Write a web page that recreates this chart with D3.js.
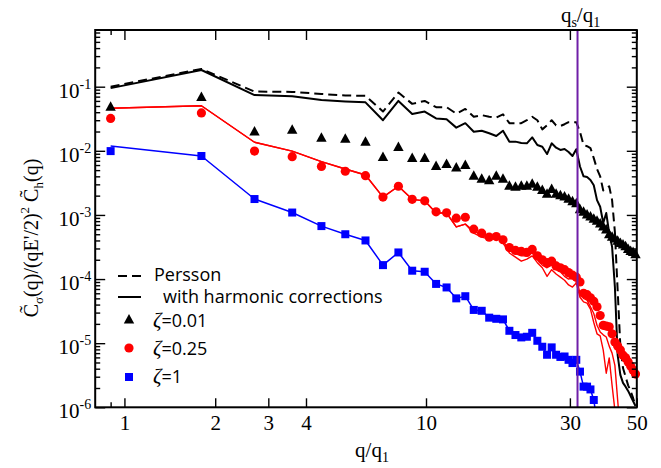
<!DOCTYPE html>
<html>
<head>
<meta charset="utf-8">
<script src="https://cdn.jsdelivr.net/npm/d3@7"></script>
<style>
  body { margin: 0; background: #fff; }
  svg { display: block; }
</style>
</head>
<body>
<div id="container"></div>
<script>
// q/q1 positions of the bins
const qValues = [0.9, 1.8, 2.7, 3.6, 4.5, 5.4, 6.3, 7.2, 8.1, 9.0, 9.9, 10.8, 11.7, 12.6, 13.5,
  14.4, 15.3, 16.2, 17.1, 18.0, 18.9, 19.8, 20.7, 21.6, 22.5, 23.4, 24.3, 25.2, 26.1, 27.0,
  27.9, 28.8, 29.7, 30.6, 31.5, 32.4, 33.3, 34.2, 35.1, 36.0, 36.9, 37.8, 38.7, 39.6, 40.5,
  41.4, 42.3, 43.2, 44.1, 45.0, 45.9, 46.8, 47.7, 48.6, 49.5];

// simulation markers
const zeta001 = [0.048, 0.068, 0.0197, 0.021, 0.0157, 0.0151, 0.0136, 0.0079, 0.0113, 0.0076,
  0.0076, 0.0057, 0.0061, 0.0054, 0.0059, 0.0040, 0.0036, 0.0034, 0.0040, 0.0036,
  0.0028, 0.0027, 0.0028, 0.0028, 0.0030, 0.0027, 0.0024, 0.0021, 0.0025, 0.0021,
  0.0020, 0.0019, 0.00175, 0.0016, 0.0015, 0.0012, 0.0011, 0.0010, 9.3e-4, 8.6e-4,
  8.0e-4, 7.2e-4, 6.5e-4, 5.8e-4, 4.9e-4, 4.5e-4, 4.2e-4, 3.9e-4, 3.6e-4, 3.4e-4,
  3.2e-4, 2.9e-4, 2.7e-4, 2.6e-4, 2.4e-4];
const zeta025 = [0.032, 0.039, 0.0099, 0.0081, 0.0057, 0.0048, 0.0041, 0.0019, 0.0028, 0.00175,
  0.00166, 0.00112, 0.00108, 8.9e-4, 9.2e-4, 6.0e-4, 5.2e-4, 4.5e-4, 4.6e-4, 4.1e-4,
  3.1e-4, 2.8e-4, 2.7e-4, 2.6e-4, 2.9e-4, 2.3e-4, 2.0e-4, 1.8e-4, 1.9e-4, 1.6e-4,
  1.5e-4, 1.4e-4, 1.26e-4, 1.15e-4, 1.07e-4, 9.0e-5, 6.0e-5, 5.7e-5, 5.1e-5, 4.5e-5,
  3.7e-5, 2.7e-5, 1.9e-5, 1.85e-5, 1.8e-5, 1.4e-5, 1.04e-5, 9.0e-6, 7.8e-6, 6.5e-6,
  5.9e-6, 5.1e-6, 4.4e-6, 3.8e-6, 3.3e-6];
const zeta1 = [0.0099, 0.0083, 0.00177, 0.00109, 6.7e-4, 5.0e-4, 4.0e-4, 1.65e-4, 2.6e-4, 1.35e-4,
  1.3e-4, 8.4e-5, 7.4e-5, 5.0e-5, 5.4e-5, 3.3e-5, 3.2e-5, 2.5e-5, 2.4e-5, 2.35e-5,
  1.56e-5, 1.34e-5, 1.23e-5, 1.26e-5, 1.45e-5, 1.09e-5, 8.8e-6, 6.6e-6, 8.6e-6, 6.6e-6,
  6.1e-6, 6.2e-6, 5.5e-6, 4.9e-6, 5.5e-6, 3.6e-6, 2.1e-6, 2.1e-6, 1.9e-6, 1.3e-6,
  6e-7];

// theory lines
const perssonZeta001 = [0.1, 0.189, 0.084, 0.083, 0.077, 0.073, 0.072, 0.041, 0.081, 0.054,
  0.060, 0.048, 0.048, 0.038, 0.045, 0.034, 0.036, 0.034, 0.033, 0.037,
  0.027, 0.027, 0.027, 0.030, 0.034, 0.030, 0.0216, 0.025, 0.030, 0.025,
  0.0244, 0.026, 0.028, 0.028, 0.028, 0.0197, 0.0123, 0.0118, 0.011, 0.0077,
  0.0052, 0.0040, 0.0024, 0.0026, 0.0028, 0.0017, 5.4e-4, 6.7e-5, 9.0e-6, 4.1e-6,
  3.0e-6, 2.2e-6, 1.8e-6, 1.4e-6, 1.05e-6];
const harmonicZeta001 = [0.095, 0.182, 0.074, 0.071, 0.062, 0.059, 0.057, 0.030, 0.060, 0.0375,
  0.041, 0.032, 0.031, 0.023, 0.027, 0.0198, 0.0206, 0.0188, 0.017, 0.0206,
  0.0139, 0.0139, 0.0132, 0.0131, 0.0162, 0.0123, 0.0116, 0.0089, 0.0131, 0.0112,
  0.0103, 0.0107, 0.0096, 0.0083, 0.0106, 0.0057, 0.0040, 0.0039, 0.0035, 0.0029,
  0.0017, 0.00134, 7.5e-4, 0.00107, 5.2e-4, 3.2e-4, 7.5e-5, 6.5e-6, 3.2e-6, 2.4e-6,
  2.1e-6, 1.8e-6, 1.5e-6, 1.25e-6, 1.05e-6];
const perssonZeta025 = [0.046, 0.0505, 0.0136, 0.0099, 0.0068, 0.0052, 0.0042, 0.0019, 0.0028, 0.00175,
  0.00166, 0.00107, 0.00107, 6.5e-4, 7.2e-4, 5.6e-4, 4.9e-4, 4.4e-4, 5.0e-4, 3.9e-4,
  2.8e-4, 2.5e-4, 2.3e-4, 2.3e-4, 2.55e-4, 2.0e-4, 1.65e-4, 1.5e-4, 1.65e-4, 1.4e-4,
  1.3e-4, 1.1e-4, 1.0e-4, 1.04e-4, 1.07e-4, 6.0e-5, 5.0e-5, 4.7e-5, 3.7e-5, 2.9e-5,
  1.9e-5, 1.5e-5, 1.35e-5, 1.25e-5, 9.0e-6, 7.0e-6, 4.5e-6, 1.3e-6, 4e-7];
const harmonicZeta025 = [0.046, 0.0505, 0.0136, 0.0099, 0.0068, 0.0052, 0.0042, 0.0019, 0.0028, 0.00175,
  0.00166, 0.00107, 0.00107, 6.5e-4, 7.2e-4, 5.2e-4, 4.5e-4, 4.2e-4, 4.7e-4, 3.65e-4,
  2.55e-4, 2.2e-4, 1.9e-4, 2.05e-4, 2.3e-4, 1.8e-4, 1.5e-4, 1.1e-4, 1.4e-4, 1.2e-4,
  1.07e-4, 9.6e-5, 8.1e-5, 7.5e-5, 8.7e-5, 5.2e-5, 4.4e-5, 4.2e-5, 3.4e-5, 2.1e-5,
  1.4e-5, 1.3e-5, 7.8e-6, 3.4e-6, 5.9e-6, 2.2e-6, 9e-7, 4e-7];
const harmonicZeta1 = [0.0119, 0.0083, 0.00177, 0.00109, 6.7e-4, 5.0e-4, 4.0e-4, 1.65e-4, 2.6e-4, 1.35e-4,
  1.3e-4, 8.4e-5, 7.4e-5, 5.0e-5, 5.4e-5, 3.3e-5, 3.2e-5, 2.5e-5, 2.4e-5, 2.35e-5,
  1.56e-5, 1.34e-5, 1.23e-5, 1.26e-5, 1.45e-5, 1.09e-5, 8.8e-6, 6.6e-6, 8.6e-6, 6.6e-6,
  6.1e-6, 6.2e-6, 5.5e-6, 4.9e-6, 5.5e-6, 3.6e-6, 2.1e-6, 2.1e-6, 1.9e-6, 1.3e-6,
  6e-7, 4e-7];

const qsOverQ1 = 31.8;
const xTickValues = [1, 2, 3, 4, 10, 30, 50];
const xMinorTicks = [0.9];

const svg = d3.select('#container').append('svg')
  .attr('width', 661)
  .attr('height', 468);

const x = d3.scaleLog().domain([0.8, 50]).range([95.2, 636.8]);
const y = d3.scaleLog().domain([1e-6, 0.766]).range([407.3, 30]);
const [plotLeft, plotRight] = x.range();
const [plotBottom, plotTop] = y.range();

const serif = 'Liberation Serif, Times New Roman, serif';
const sans = 'Open Sans, sans-serif';

svg.append('defs').append('clipPath').attr('id', 'clip')
  .append('rect').attr('x', 0).attr('y', 0).attr('width', 661).attr('height', plotBottom);

const plot = svg.append('g').attr('clip-path', 'url(#clip)');
const pairs = vals => vals.map((v, i) => [qValues[i], v]);
const line = d3.line().x(d => x(d[0])).y(d => y(d[1]));

// lines
const lines = [
  { vals: perssonZeta001, color: '#000', width: 2, dash: '9,5' },
  { vals: harmonicZeta001, color: '#000', width: 2, dash: null },
  { vals: perssonZeta025, color: '#ff0000', width: 1.4, dash: null },
  { vals: harmonicZeta025, color: '#ff0000', width: 1.4, dash: null },
  { vals: harmonicZeta1, color: '#0000ff', width: 1.5, dash: null }
];
plot.selectAll('path.curve')
  .data(lines)
  .join('path')
    .attr('class', 'curve')
    .attr('d', d => line(pairs(d.vals)))
    .attr('fill', 'none')
    .attr('stroke', d => d.color)
    .attr('stroke-width', d => d.width)
    .attr('stroke-dasharray', d => d.dash)
    .attr('stroke-linejoin', 'round');

// markers
const triPath = 'M0,-6L5.2,3.5L-5.2,3.5Z';
plot.append('g').selectAll('path')
  .data(pairs(zeta001))
  .join('path')
    .attr('d', triPath)
    .attr('transform', d => `translate(${x(d[0])},${y(d[1])})`)
    .attr('fill', '#000');

plot.append('g').selectAll('circle')
  .data(pairs(zeta025))
  .join('circle')
    .attr('cx', d => x(d[0]))
    .attr('cy', d => y(d[1]))
    .attr('r', 4.6)
    .attr('fill', '#ff0000');

plot.append('g').selectAll('rect')
  .data(pairs(zeta1))
  .join('rect')
    .attr('x', d => x(d[0]) - 4)
    .attr('y', d => y(d[1]) - 4)
    .attr('width', 8)
    .attr('height', 8)
    .attr('fill', '#0000ff');

// q_s / q_1 marker line
svg.append('line')
  .attr('x1', x(qsOverQ1)).attr('x2', x(qsOverQ1))
  .attr('y1', plotTop).attr('y2', plotBottom)
  .attr('stroke', '#6f1fa8')
  .attr('stroke-width', 2);

// axes (ticks inward)
const yTicks = y.ticks();
const isDecade = t => Math.abs(Math.log10(t) - Math.round(Math.log10(t))) < 1e-6;
const yMajor = yTicks.filter(isDecade);
const yMinor = yTicks.filter(t => !isDecade(t));

function tickAxis(axis, transform) {
  const g = svg.append('g').attr('transform', transform).call(axis);
  g.select('.domain').remove();
  g.selectAll('line').attr('stroke', '#000').attr('stroke-width', 1.4);
  return g;
}

tickAxis(d3.axisLeft(y).tickValues(yMajor).tickSize(-10).tickFormat(''), `translate(${plotLeft},0)`);
tickAxis(d3.axisLeft(y).tickValues(yMinor).tickSize(-5).tickFormat(''), `translate(${plotLeft},0)`);
tickAxis(d3.axisRight(y).tickValues(yMajor).tickSize(-10).tickFormat(''), `translate(${plotRight},0)`);
tickAxis(d3.axisRight(y).tickValues(yMinor).tickSize(-5).tickFormat(''), `translate(${plotRight},0)`);
tickAxis(d3.axisTop(x).tickValues(xTickValues).tickSize(-10).tickFormat(''), `translate(0,${plotTop})`);
tickAxis(d3.axisTop(x).tickValues(xMinorTicks).tickSize(-5).tickFormat(''), `translate(0,${plotTop})`);
tickAxis(d3.axisBottom(x).tickValues(xMinorTicks).tickSize(-5).tickFormat(''), `translate(0,${plotBottom})`);
const xAxis = tickAxis(d3.axisBottom(x).tickValues(xTickValues).tickSize(-9).tickPadding(8).tickFormat(d3.format('d')),
  `translate(0,${plotBottom})`);
xAxis.attr('font-family', serif).attr('font-size', 21);
xAxis.selectAll('text').attr('fill', '#000');

// y tick labels 10^n
const yLabels = svg.append('g').attr('font-family', serif).attr('fill', '#000');
yMajor.forEach(t => {
  const txt = yLabels.append('text')
    .attr('x', plotLeft - 4)
    .attr('y', y(t) + 11)
    .attr('text-anchor', 'end')
    .attr('font-size', 21);
  txt.append('tspan').text('10');
  txt.append('tspan').attr('dy', -9).attr('font-size', 14).text(String(Math.round(Math.log10(t))));
});

// frame
svg.append('rect')
  .attr('x', plotLeft).attr('y', plotTop)
  .attr('width', plotRight - plotLeft).attr('height', plotBottom - plotTop)
  .attr('fill', 'none')
  .attr('stroke', '#000')
  .attr('stroke-width', 2);

// axis titles
const xt = svg.append('text')
  .attr('x', 372).attr('y', 457)
  .attr('text-anchor', 'middle')
  .attr('font-family', serif).attr('font-size', 21);
xt.append('tspan').text('q/q');
xt.append('tspan').attr('dy', 5).attr('font-size', 14).text('1');

const qt = svg.append('text')
  .attr('x', x(qsOverQ1) + 3).attr('y', 22)
  .attr('text-anchor', 'middle')
  .attr('font-family', serif).attr('font-size', 21);
qt.append('tspan').text('q');
qt.append('tspan').attr('dy', 5).attr('font-size', 14).text('s');
qt.append('tspan').attr('dy', -5).text('/q');
qt.append('tspan').attr('dy', 5).attr('font-size', 14).text('1');

const yt = svg.append('text')
  .attr('transform', 'translate(38,238) rotate(-90)')
  .attr('text-anchor', 'middle')
  .attr('font-family', serif).attr('font-size', 20);
yt.append('tspan').text('C\u0303');
yt.append('tspan').attr('dy', 5).attr('font-size', 13).text('σ');
yt.append('tspan').attr('dy', -5).text("(q)/(qE'/2)");
yt.append('tspan').attr('dy', -9).attr('font-size', 13).text('2');
yt.append('tspan').attr('dy', 9).text(' C\u0303');
yt.append('tspan').attr('dy', 5).attr('font-size', 13).text('h');
yt.append('tspan').attr('dy', -5).text('(q)');

// legend
const legend = svg.append('g').attr('font-family', sans).attr('font-size', 18).attr('fill', '#000');
legend.append('line').attr('x1', 118).attr('x2', 141).attr('y1', 276).attr('y2', 276)
  .attr('stroke', '#000').attr('stroke-width', 2).attr('stroke-dasharray', '9,5');
legend.append('text').attr('x', 154).attr('y', 281).text('Persson');
legend.append('line').attr('x1', 118).attr('x2', 141).attr('y1', 297).attr('y2', 297)
  .attr('stroke', '#000').attr('stroke-width', 2);
legend.append('text').attr('x', 163).attr('y', 303).text('with harmonic corrections');

legend.append('path').attr('d', triPath).attr('transform', 'translate(129,320)').attr('fill', '#000');
legend.append('circle').attr('cx', 129).attr('cy', 348).attr('r', 4.6).attr('fill', '#ff0000');
legend.append('rect').attr('x', 125).attr('y', 373).attr('width', 8).attr('height', 8).attr('fill', '#0000ff');

const zetaLabels = [['0.01', 327], ['0.25', 355], ['1', 383]];
zetaLabels.forEach(([v, yy]) => {
  const t = legend.append('text').attr('x', 153).attr('y', yy);
  t.append('tspan').attr('font-family', serif).attr('font-style', 'italic').attr('font-size', 21).text('ζ');
  t.append('tspan').text('=' + v);
});
</script>
</body>
</html>
